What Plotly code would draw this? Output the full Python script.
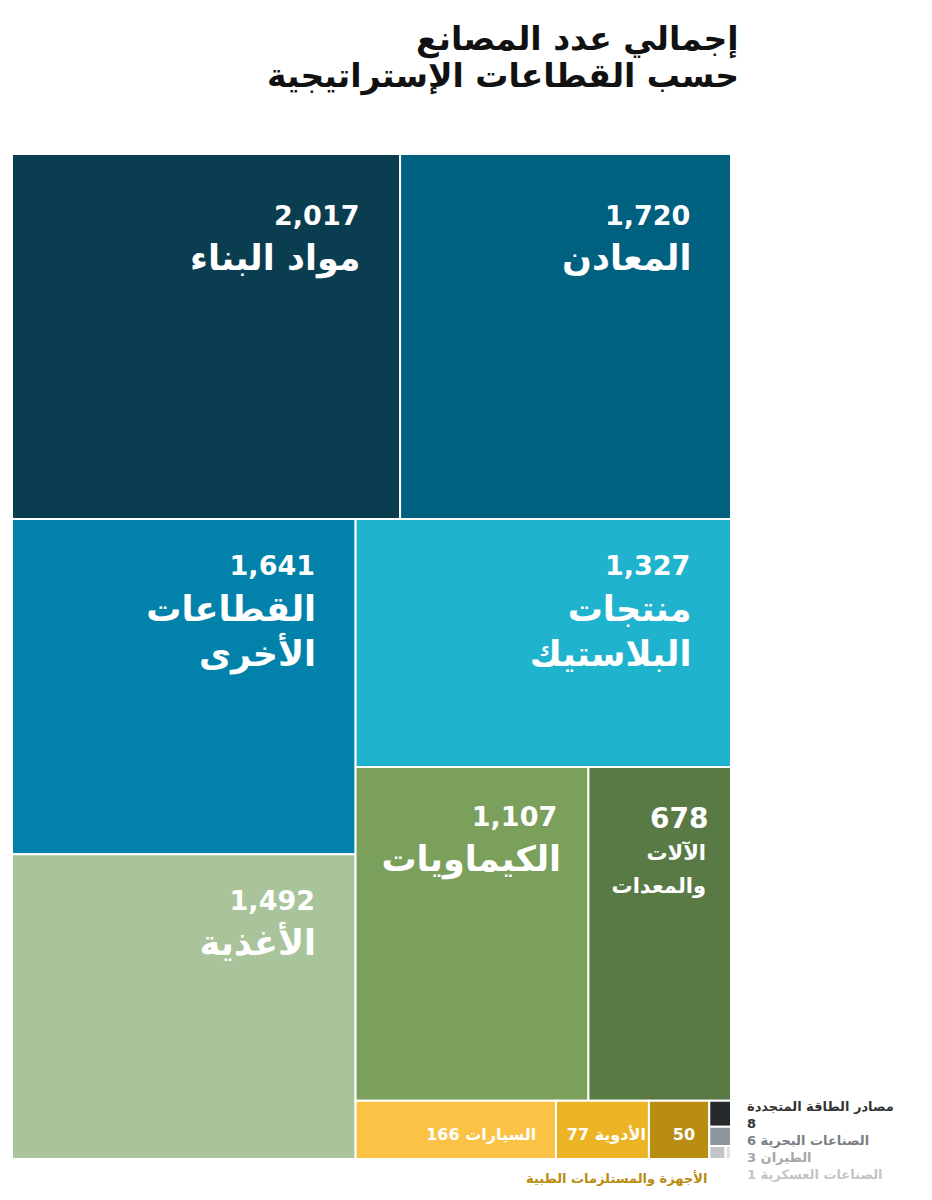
import plotly.graph_objects as go

# Data
labels = ["مواد البناء", "المعادن", "القطاعات الأخرى", "الأغذية", "منتجات البلاستيك",
          "الكيماويات", "الآلات والمعدات", "السيارات", "الأدوية",
          "الأجهزة والمستلزمات الطبية", "مصادر الطاقة المتجددة", "الصناعات البحرية",
          "الطيران", "الصناعات العسكرية"]
display_labels = ["مواد البناء", "المعادن", "القطاعات<br>الأخرى", "الأغذية", "منتجات<br>البلاستيك",
                  "الكيماويات", "الآلات<br>والمعدات", "السيارات", "الأدوية", "", "", "", "", ""]
values = [2017, 1720, 1641, 1492, 1327, 1107, 678, 166, 77, 50, 8, 6, 3, 1]
colors = ["#0a3d50", "#00607f", "#0282aa", "#a9c49a", "#1fb3cd", "#7aa05c", "#5a7a45",
          "#fcc246", "#ecb424", "#b98c12", "#26292c", "#8e969c", "#c3c6c9", "#e0e2e3"]
legend_colors = ["#333333", "#333333", "#7a7f84", "#a3a7ab", "#c2c5c8"]

title_lines = ["إجمالي عدد المصانع", "حسب القطاعات الإستراتيجية"]

NB = "\u00a0"


def span(txt, size):
    return '<span style="font-size:%dpx">%s</span>' % (size, txt)


# per-cell text styling: (blank-line size, base size, value size, label size, value pad, label pad)
styles = {
    2017: (24, 35, 27, 35, 4, 3),
    1720: (24, 35, 27, 35, 4, 3),
    1641: (9, 35, 27, 35, 4, 3),
    1492: (8, 35, 27, 35, 4, 3),
    1327: (9, 35, 27, 35, 4, 3),
    1107: (11, 35, 27, 35, 3, 2),
    678: (27, 25, 28, 21, 2, 3),
}

templates = []
sizes = []
for v, d in zip(values, display_labels):
    if v in styles:
        bl, base, vs, ls, vp, lp = styles[v]
        lines = [span(NB, bl), span("%{value:,}" + NB * vp, vs)] + \
                [span(ln + NB * lp, ls) for ln in d.split("<br>")]
        templates.append("<b>" + "<br>".join(lines) + "</b>")
        sizes.append(base)
    elif v >= 150:
        templates.append("<b>" + NB + "<br>%{value} " + d + NB * 3 + "</b>")
        sizes.append(16)
    elif v >= 70:
        templates.append("<b>" + NB + "<br>%{value} " + d + "</b>")
        sizes.append(16)
    elif v >= 20:
        templates.append("<b>" + NB + "<br>%{value}" + NB * 2 + "</b>")
        sizes.append(16)
    else:
        templates.append("")
        sizes.append(10)

fig = go.Figure(go.Treemap(
    labels=labels,
    parents=[""] * len(labels),
    values=values,
    sort=True,
    texttemplate=templates,
    textposition="top right",
    textfont=dict(family="DejaVu Sans", size=sizes, color="white"),
    marker=dict(colors=colors, line=dict(color="white", width=2), pad=dict(t=0, l=0, r=0, b=0)),
    tiling=dict(packing="squarify", squarifyratio=1.25, pad=0),
    pathbar=dict(visible=False),
    hoverinfo="label+value",
    domain=dict(x=[4 / 932, 723 / 932], y=[1 - 1151 / 1200, 1 - 146 / 1200]),
))

fig.add_annotation(x=733 / 932, y=1 - 31 / 1200, xref="paper", yref="paper", xanchor="right", yanchor="middle",
                   text="<b>" + title_lines[0] + "</b>", showarrow=False, align="right",
                   font=dict(family="DejaVu Sans", size=33, color="#111111"))
fig.add_annotation(x=733 / 932, y=1 - 68 / 1200, xref="paper", yref="paper", xanchor="right", yanchor="middle",
                   text="<b>" + title_lines[1] + "</b>", showarrow=False, align="right",
                   font=dict(family="DejaVu Sans", size=33, color="#111111"))

# small-category labels
LX = 737 / 932
fig.add_annotation(x=LX, y=1 - 1089 / 1200, xref="paper", yref="paper", xanchor="left", yanchor="top",
                   text="<b>" + labels[10] + "<br>" + str(values[10]) + "</b>", showarrow=False, align="left",
                   font=dict(family="DejaVu Sans", size=13, color=legend_colors[0]))
fig.add_annotation(x=LX, y=1 - 1123 / 1200, xref="paper", yref="paper", xanchor="left", yanchor="top",
                   text="<b>" + labels[11] + " " + str(values[11]) + "</b>", showarrow=False, align="left",
                   font=dict(family="DejaVu Sans", size=13, color=legend_colors[2]))
fig.add_annotation(x=LX, y=1 - 1140 / 1200, xref="paper", yref="paper", xanchor="left", yanchor="top",
                   text="<b>" + labels[12] + " " + str(values[12]) + "</b>", showarrow=False, align="left",
                   font=dict(family="DejaVu Sans", size=13, color=legend_colors[3]))
fig.add_annotation(x=LX, y=1 - 1157 / 1200, xref="paper", yref="paper", xanchor="left", yanchor="top",
                   text="<b>" + labels[13] + " " + str(values[13]) + "</b>", showarrow=False, align="left",
                   font=dict(family="DejaVu Sans", size=13, color=legend_colors[4]))
fig.add_annotation(x=701 / 932, y=1 - 1160 / 1200, xref="paper", yref="paper", xanchor="right", yanchor="top",
                   text="<b>" + labels[9] + "</b>", showarrow=False, align="right",
                   font=dict(family="DejaVu Sans", size=13, color="#b98c12"))

fig.update_layout(width=932, height=1200, margin=dict(l=0, r=0, t=0, b=0),
                  paper_bgcolor="white", plot_bgcolor="white", showlegend=False)

fig.write_html("out.html")
